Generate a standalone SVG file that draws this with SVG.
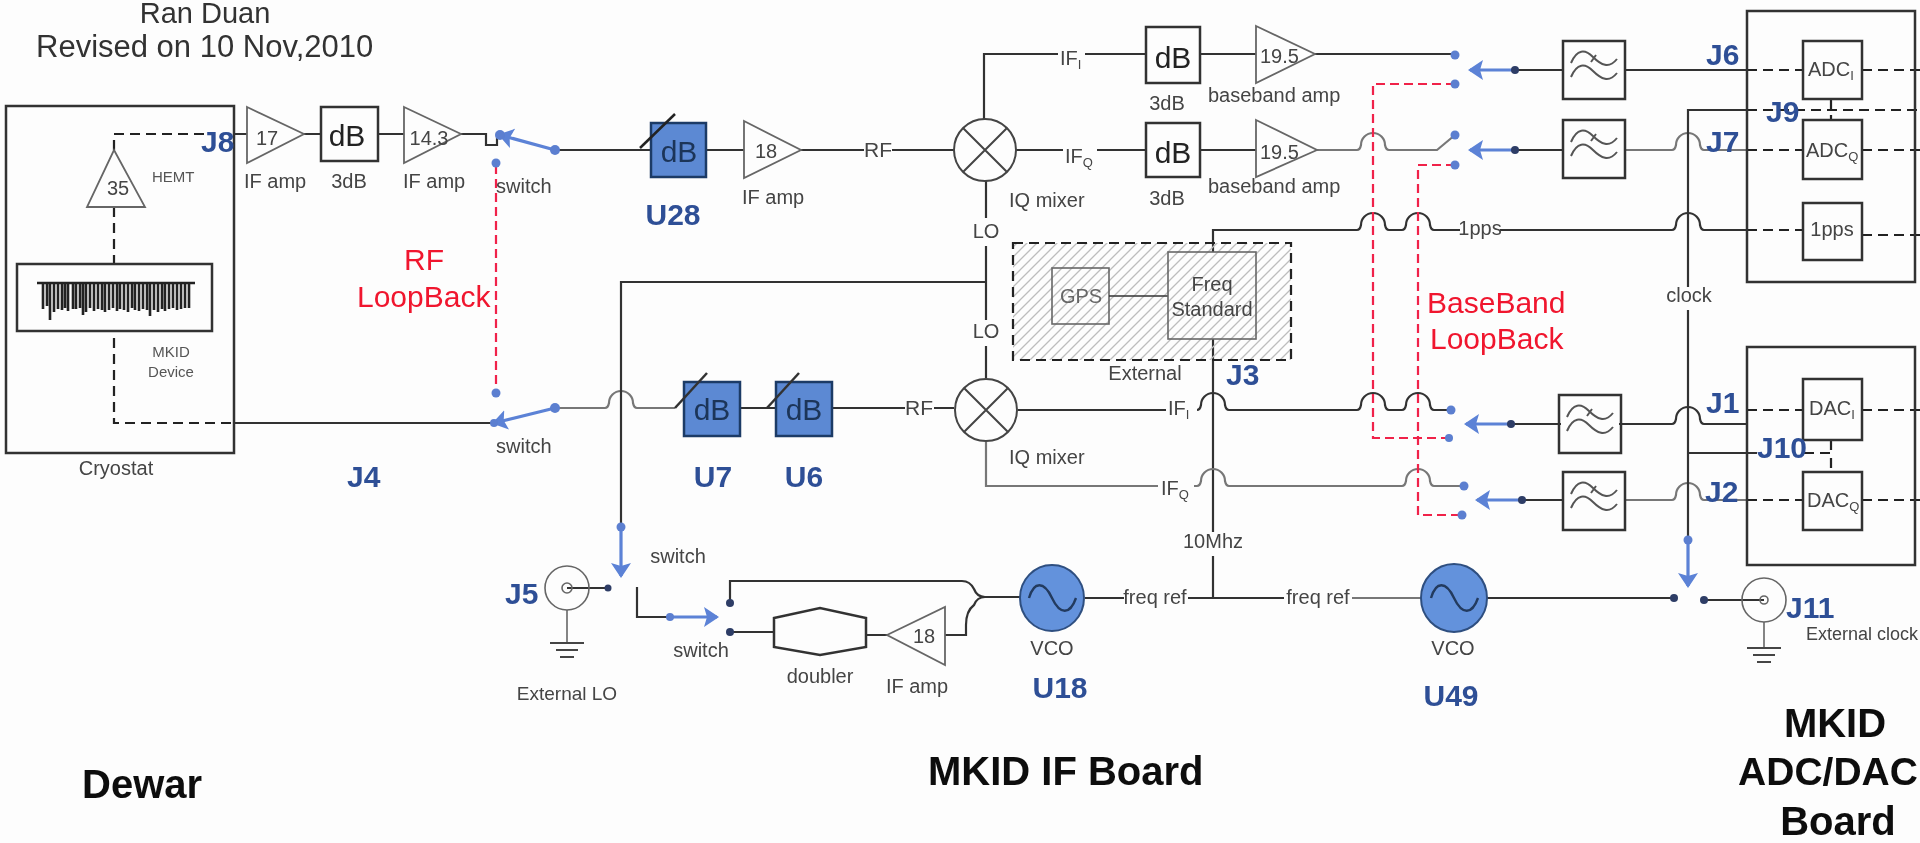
<svg xmlns="http://www.w3.org/2000/svg" xmlns:xlink="http://www.w3.org/1999/xlink" width="1920" height="843" viewBox="0 0 1920 843">
<style>
text{font-family:"Liberation Sans",Arial,sans-serif;font-size:20px;fill:#444}
.m{text-anchor:middle}
.big{font-size:30px;fill:#222}
.blue{font-size:30px;font-weight:bold;fill:#2f4f96}
.red{font-size:30px;fill:#f0142d}
.head{font-size:40px;font-weight:bold;fill:#111}
.title{font-size:31px;fill:#333}
.sm{font-size:15px;fill:#555}
.box{fill:none;stroke:#333;stroke-width:2.5}
.thin{fill:none;stroke:#666;stroke-width:1.6}
.amp{fill:none;stroke:#666;stroke-width:1.8}
.att{fill:#5b89d3;stroke:#1f3a66;stroke-width:2.5}
.vco{fill:#6492dc;stroke:#2f4f80;stroke-width:2}
.w{fill:none;stroke:#333;stroke-width:2.2}
.g{fill:none;stroke:#777;stroke-width:2.2}
.d{fill:none;stroke:#222;stroke-width:2.2;stroke-dasharray:10 6}
.r{fill:none;stroke:#f0244a;stroke-width:2.2;stroke-dasharray:9 5}
.b{fill:none;stroke:#5b82d6;stroke-width:3.2;marker-end:url(#ah)}
.bl{fill:none;stroke:#5b82d6;stroke-width:3.2}
.dot{fill:#5b7fd0}
.kd{fill:#2d3d66}
</style>
<defs>
<filter id="soft" filterUnits="userSpaceOnUse" x="0" y="0" width="1920" height="843"><feGaussianBlur stdDeviation="0.65"/></filter>
<marker id="ah" markerUnits="userSpaceOnUse" markerWidth="18" markerHeight="22" refX="13" refY="11" orient="auto"><path d="M0 1L15 11L0 21L3 11Z" fill="#5b82d6"/></marker>
<pattern id="hatch" patternUnits="userSpaceOnUse" width="10" height="10"><path d="M-1 11L11 -1M-1 1L1 -1M9 11L11 9" stroke="#bdbdbd" stroke-width="1.3"/></pattern>
<g id="lpf"><path d="M0 0H62V58H0Z" class="box"/><path d="M8 22C14 8 22 8 30 16S46 28 54 18M8 36C14 22 22 22 30 30S46 42 54 32M28 21L33 14" fill="none" stroke="#555" stroke-width="2"/></g>
<g id="sine"><path d="M-23 0C-18 -17 -8 -17 0 0S18 17 24 0" fill="none" stroke="#233a5e" stroke-width="2.4"/></g>
<g id="mix"><circle r="31" fill="none" stroke="#444" stroke-width="2"/><path d="M-22 -22L22 22M-22 22L22 -22" stroke="#444" stroke-width="2"/></g>
<g id="gnd"><path d="M-17 0H17M-11 7H11M-7 14H7" stroke="#444" stroke-width="2.2" fill="none"/></g>
</defs>
<rect width="1920" height="843" fill="#fdfdfd"/>
<g filter="url(#soft)">
<g id="connectors">
<path class="d" d="M114 150V134H205"/>
<path class="w" d="M233 134H247M304 134H321M378 134H404M461 134H486V145H497V132"/>
<path class="d" d="M114 207V264M114 338V423H234"/>
<path class="w" d="M234 423H492"/>
<path class="b" d="M555 150L500 135"/>
<path class="b" d="M555 408L494 423"/>
<path class="w" d="M555 150H744M801 150H864M892 150H954"/>
<path class="g" d="M555 408H605Q608 408 609 403A12 12 0 0 1 633 403Q634 408 637 408H675"/>
<path class="w" d="M740 408H776M832 408H905M934 408H954"/>
<path class="w" d="M984 119V54H1058M1085 54H1146M1200 54H1256M1016 150H1063M1097 150H1146M1200 150H1256"/>
<path class="w" d="M1315 54H1455"/>
<path class="g" d="M1317 150H1357Q1360 150 1361 145A12 12 0 0 1 1385 145Q1386 150 1389 150H1437L1455 135"/>
<path class="w" d="M986 181V218M986 246V320M986 346V378"/>
<path class="w" d="M986 282H621V527"/>
<path class="b" d="M621 527V576"/>
<path class="w" d="M1213 252V230H1357Q1360 230 1361 225A12 12 0 0 1 1385 225Q1386 230 1389 230H1402Q1405 230 1406 225A12 12 0 0 1 1430 225Q1431 230 1434 230H1460M1500 230H1672Q1675 230 1676 225A12 12 0 0 1 1700 225Q1701 230 1704 230H1747"/>
<path class="w" d="M1213 339V532M1213 556V598"/>
<path class="w" d="M1018 410H1166M1197 410Q1200 410 1201 405A12 12 0 0 1 1225 405Q1226 410 1229 410H1357Q1360 410 1361 405A12 12 0 0 1 1385 405Q1386 410 1389 410H1402Q1405 410 1406 405A12 12 0 0 1 1430 405Q1431 410 1434 410H1451"/>
<path class="g" d="M986 442V486H1158M1194 486H1197Q1200 486 1201 481A12 12 0 0 1 1225 481Q1226 486 1229 486H1402Q1405 486 1406 481A12 12 0 0 1 1430 481Q1431 486 1434 486H1464"/>
<path class="w" d="M1085 598H1124M1188 598H1284M1487 598H1674M1704 600H1764"/>
<path class="g" d="M1352 598H1421"/>
<path class="r" d="M1455 84H1373V438H1449"/>
<path class="r" d="M1455 165H1418V515H1462"/>
<path class="r" d="M496 165V393"/>
<path class="b" d="M1515 70H1470"/>
<path class="b" d="M1515 150H1470"/>
<path class="b" d="M1511 424H1466"/>
<path class="b" d="M1522 500H1477"/>
<path class="w" d="M1515 70H1563M1515 150H1563M1511 424H1561M1522 500H1563"/>
<path class="w" d="M1625 70H1747"/>
<path class="g" d="M1625 150H1672Q1675 150 1676 145A12 12 0 0 1 1700 145Q1701 150 1704 150H1747"/>
<path class="w" d="M1619 424H1672Q1675 424 1676 419A12 12 0 0 1 1700 419Q1701 424 1704 424H1747"/>
<path class="g" d="M1625 500H1672Q1675 500 1676 495A12 12 0 0 1 1700 495Q1701 500 1704 500H1747"/>
<path class="w" d="M1747 110H1688V287M1688 310V540M1688 453H1757"/>
<path class="b" d="M1688 540V586"/>
<path class="d" d="M1747 70H1803M1862 70H1920M1747 150H1803M1862 150H1920M1747 230H1803M1862 235H1920M1747 110H1920M1831 99V120M1747 410H1803M1862 410H1920M1747 500H1803M1862 500H1920M1804 453H1831V472M1831 440V453"/>
<path class="w" d="M567 588H608M637 587V617H670"/>
<path class="b" d="M670 617H717"/>
<path class="w" d="M730 603V581H962Q970 581 974 589Q977 597 985 597H1020M945 635H966V625Q966 611 974 605Q977 597 985 597M730 632H774M866 635H887"/>
<circle class="dot" cx="555" cy="150" r="5"/><circle class="dot" cx="500" cy="135" r="5"/><circle class="dot" cx="496" cy="163" r="4.5"/><circle class="dot" cx="496" cy="393" r="4.5"/><circle class="dot" cx="555" cy="408" r="5"/><circle class="dot" cx="494" cy="423" r="4"/>
<circle class="dot" cx="1455" cy="55" r="4.5"/><circle class="dot" cx="1455" cy="84" r="4.5"/><circle class="dot" cx="1455" cy="135" r="4.5"/><circle class="dot" cx="1455" cy="165" r="4.5"/><circle class="dot" cx="1451" cy="410" r="4.5"/><circle class="dot" cx="1449" cy="438" r="4"/><circle class="dot" cx="1464" cy="486" r="4.5"/><circle class="dot" cx="1462" cy="515" r="4.5"/>
<circle class="kd" cx="1515" cy="70" r="4"/><circle class="kd" cx="1515" cy="150" r="4"/><circle class="kd" cx="1511" cy="424" r="4"/><circle class="kd" cx="1522" cy="500" r="4"/>
<circle class="dot" cx="621" cy="527" r="4.5"/><circle class="kd" cx="608" cy="588" r="3.5"/><circle class="dot" cx="670" cy="617" r="4"/><circle class="kd" cx="730" cy="603" r="4"/><circle class="kd" cx="730" cy="632" r="4"/><circle class="dot" cx="1688" cy="540" r="4.5"/><circle class="kd" cx="1674" cy="598" r="4"/><circle class="kd" cx="1704" cy="600" r="4"/>
</g>
<g id="title"><text class="title m" x="205" y="23" style="font-size:29px">Ran Duan</text><text class="title" x="36" y="57">Revised on 10 Nov,2010</text></g>
<g id="cryostat"><rect x="6" y="106" width="228" height="347" class="box"/><text class="m" x="116" y="475">Cryostat</text></g>
<g id="hemt"><path class="amp" d="M114 150L145 207H87Z"/><text class="m" x="118" y="195">35</text><text class="sm" x="152" y="182">HEMT</text></g>
<g id="mkid-device"><rect x="17" y="264" width="195" height="67" class="box"/>
<path d="M37 283H195M43 283V309M47 283V306M50 283V320M54 283V312M58 283V309M62 283V310M65 283V308M68 283V311M73 283V309M76 283V309M80 283V308M83 283V315M86 283V312M90 283V308M94 283V311M98 283V309M102 283V310M105 283V312M109 283V310M113 283V308M117 283V311M120 283V309M124 283V310M128 283V312M132 283V308M135 283V310M139 283V311M143 283V309M147 283V310M150 283V316M154 283V310M158 283V312M162 283V309M165 283V311M169 283V309M173 283V308M177 283V310M181 283V309M185 283V308M189 283V308" fill="none" stroke="#222" stroke-width="2.6"/>
<text class="sm m" x="171" y="357">MKID</text><text class="sm m" x="171" y="377">Device</text></g>
<g id="j8"><text class="blue" x="201" y="152">J8</text></g>
<g id="amp-17"><path class="amp" d="M247 107L304 134L247 163Z"/><text class="m" x="267" y="145">17</text><text x="244" y="188">IF amp</text></g>
<g id="att-3db-a"><rect x="321" y="107" width="57" height="54" class="box"/><text class="big m" x="347" y="146">dB</text><text class="m" x="349" y="188">3dB</text></g>
<g id="amp-143"><path class="amp" d="M404 107L461 134L404 163Z"/><text class="m" x="429" y="145">14.3</text><text x="403" y="188">IF amp</text></g>
<g id="switch-rf"><text x="496" y="193">switch</text><text x="496" y="453">switch</text></g>
<g id="rf-loopback"><text class="red m" x="424" y="270">RF</text><text class="red" x="357" y="307">LoopBack</text></g>
<g id="u28"><rect x="651" y="123" width="55" height="54" class="att"/><path d="M640 148L675 114" stroke="#222" stroke-width="2.5"/><text class="big m" x="679" y="162" style="fill:#1c3458">dB</text><text class="blue m" x="673" y="225">U28</text></g>
<g id="amp-18a"><path class="amp" d="M744 121L801 150L744 178Z"/><text class="m" x="766" y="158">18</text><text x="742" y="204">IF amp</text></g>
<text x="864" y="157" style="font-size:21px">RF</text>
<use xlink:href="#mix" href="#mix" x="985" y="150" id="mixer-1"/>
<text x="1009" y="207">IQ mixer</text>
<text class="m" x="986" y="238">LO</text><text class="m" x="986" y="338">LO</text>
<text x="1060" y="65">IF<tspan dy="4" font-size="13">I</tspan></text>
<text x="1065" y="163">IF<tspan dy="4" font-size="13">Q</tspan></text>
<g id="att-3db-b"><rect x="1146" y="27" width="54" height="56" class="box"/><text class="big m" x="1173" y="68">dB</text><text class="m" x="1167" y="110">3dB</text></g>
<g id="att-3db-c"><rect x="1146" y="123" width="54" height="54" class="box"/><text class="big m" x="1173" y="163">dB</text><text class="m" x="1167" y="205">3dB</text></g>
<g id="amp-195a"><path class="amp" d="M1256 26L1315 54L1256 83Z"/><text x="1260" y="63">19.5</text><text x="1208" y="102">baseband amp</text></g>
<g id="amp-195b"><path class="amp" d="M1256 120L1317 150L1256 177Z"/><text x="1260" y="159">19.5</text><text x="1208" y="193">baseband amp</text></g>
<g id="external"><rect x="1013" y="243" width="278" height="117" fill="url(#hatch)" stroke="#222" stroke-width="2.2" stroke-dasharray="10 6"/>
<rect x="1052" y="268" width="57" height="56" class="thin"/><text class="m" x="1081" y="303" style="fill:#666">GPS</text>
<path class="w" d="M1109 296H1168" style="stroke-width:1.6"/><rect x="1168" y="252" width="88" height="87" class="thin"/>
<text class="m" x="1212" y="291">Freq</text><text class="m" x="1212" y="316">Standard</text><text class="m" x="1145" y="380">External</text></g>
<text class="blue" x="1226" y="385">J3</text>
<g id="u7"><rect x="684" y="382" width="56" height="54" class="att"/><path d="M675 408L707 373" stroke="#333" stroke-width="2.5"/><text class="big m" x="712" y="420" style="fill:#1c3458">dB</text><text class="blue m" x="713" y="487">U7</text></g>
<g id="u6"><rect x="776" y="382" width="56" height="54" class="att"/><path d="M767 408L799 373" stroke="#333" stroke-width="2.5"/><text class="big m" x="804" y="420" style="fill:#1c3458">dB</text><text class="blue m" x="804" y="487">U6</text></g>
<text x="905" y="415" style="font-size:21px">RF</text>
<use xlink:href="#mix" href="#mix" x="986" y="410" id="mixer-2"/>
<text x="1009" y="464">IQ mixer</text>
<text x="1168" y="415">IF<tspan dy="4" font-size="13">I</tspan></text>
<text x="1161" y="495">IF<tspan dy="4" font-size="13">Q</tspan></text>
<text class="m" x="1213" y="548">10Mhz</text>
<text class="blue" x="347" y="487">J4</text>
<g id="j5"><circle cx="567" cy="588" r="22" class="thin"/><circle cx="567" cy="588" r="5" class="thin"/><path class="thin" d="M567 610V643"/><use xlink:href="#gnd" href="#gnd" x="567" y="643"/><text class="blue" x="505" y="604">J5</text><text class="m" x="567" y="700" style="font-size:19px">External LO</text></g>
<text class="m" x="678" y="563">switch</text><text class="m" x="701" y="657">switch</text>
<g id="doubler"><path class="box" d="M774 618L820 608L866 618V647L820 655L774 647Z"/><text class="m" x="820" y="683">doubler</text></g>
<g id="amp-18b"><path class="amp" d="M887 635L945 607V665Z"/><text class="m" x="924" y="643">18</text><text class="m" x="917" y="693">IF amp</text></g>
<g id="u18"><ellipse class="vco" cx="1052" cy="598" rx="32" ry="33"/><use xlink:href="#sine" href="#sine" x="1052" y="598"/><text class="m" x="1052" y="655">VCO</text><text class="blue m" x="1060" y="698">U18</text></g>
<text class="m" x="1155" y="604">freq ref</text>
<text class="m" x="1318" y="604">freq ref</text>
<g id="u49"><ellipse class="vco" cx="1454" cy="598" rx="33" ry="34"/><use xlink:href="#sine" href="#sine" x="1454" y="598"/><text class="m" x="1453" y="655">VCO</text><text class="blue m" x="1451" y="706">U49</text></g>
<text class="m" x="1480" y="235">1pps</text>
<g id="baseband-loopback"><text class="red" x="1427" y="313">BaseBand</text><text class="red" x="1430" y="349">LoopBack</text></g>
<text class="m" x="1689" y="302">clock</text>
<use xlink:href="#lpf" href="#lpf" x="1563" y="41" id="lpf-1"/>
<use xlink:href="#lpf" href="#lpf" x="1563" y="120" id="lpf-2"/>
<use xlink:href="#lpf" href="#lpf" x="1559" y="395" id="lpf-3"/>
<use xlink:href="#lpf" href="#lpf" x="1563" y="472" id="lpf-4"/>
<g id="adc-board"><rect x="1747" y="11" width="168" height="271" class="box"/>
<rect x="1803" y="41" width="59" height="58" class="box"/><text x="1808" y="76">ADC<tspan dy="4" font-size="13">I</tspan></text>
<rect x="1803" y="120" width="59" height="59" class="box"/><text x="1806" y="157">ADC<tspan dy="4" font-size="13">Q</tspan></text>
<rect x="1803" y="203" width="59" height="57" class="box"/><text class="m" x="1832" y="236">1pps</text></g>
<g id="dac-board"><rect x="1747" y="347" width="168" height="218" class="box"/>
<rect x="1803" y="379" width="59" height="61" class="box"/><text x="1809" y="415">DAC<tspan dy="4" font-size="13">I</tspan></text>
<rect x="1803" y="472" width="59" height="58" class="box"/><text x="1807" y="507">DAC<tspan dy="4" font-size="13">Q</tspan></text></g>
<g id="jacks"><text class="blue" x="1706" y="65">J6</text><text class="blue" x="1706" y="152">J7</text><text class="blue" x="1766" y="122">J9</text><text class="blue" x="1706" y="413">J1</text><text class="blue" x="1757" y="458">J10</text><text class="blue" x="1705" y="502">J2</text></g>
<g id="j11"><circle cx="1764" cy="600" r="22" class="thin"/><circle cx="1764" cy="600" r="4" class="thin"/><path class="thin" d="M1764 622V648"/><use xlink:href="#gnd" href="#gnd" x="1764" y="648"/><text class="blue" x="1786" y="618">J11</text><text x="1806" y="640" style="font-size:18px">External clock</text></g>
<g id="headings"><text class="head" x="82" y="798">Dewar</text><text class="head" x="928" y="785">MKID IF Board</text><text class="head m" x="1835" y="737">MKID</text><text class="head m" x="1828" y="785" style="font-size:39px">ADC/DAC</text><text class="head m" x="1838" y="835">Board</text></g>
</g>
</svg>
